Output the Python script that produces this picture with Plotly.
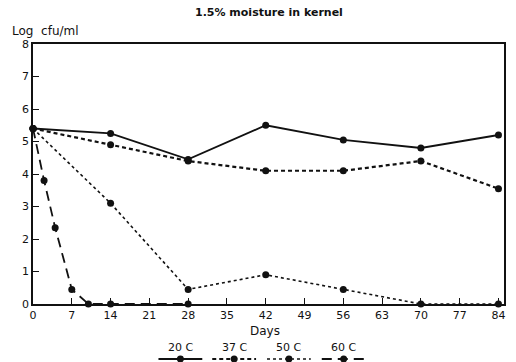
import plotly.graph_objects as go

days_20 = [0, 14, 28, 42, 56, 70, 84]
log_20 = [5.4, 5.25, 4.45, 5.5, 5.05, 4.8, 5.2]
days_37 = [0, 14, 28, 42, 56, 70, 84]
log_37 = [5.4, 4.9, 4.4, 4.1, 4.1, 4.4, 3.55]
days_50 = [0, 14, 28, 42, 56, 70, 84]
log_50 = [5.4, 3.1, 0.45, 0.9, 0.45, 0, 0]
days_60 = [0, 2, 4, 7, 10, 14, 28]
log_60 = [5.4, 3.8, 2.35, 0.45, 0, 0, 0]

series = [
    ("20 C", days_20, log_20, "solid", 1.8),
    ("37 C", days_37, log_37, "4px,3px", 2.2),
    ("50 C", days_50, log_50, "dot", 1.6),
    ("60 C", days_60, log_60, "10px,6px", 1.8),
]
x_ticks = list(range(0, 85, 7))
y_ticks = list(range(0, 9))

INK = "#111111"
fig = go.Figure()
for name, x, y, dash, w in series:
    fig.add_trace(go.Scatter(
        x=x, y=y, mode="lines+markers", name=name,
        line=dict(color=INK, width=w, dash=dash),
        marker=dict(color=INK, size=7),
        cliponaxis=False, showlegend=False))

font = "DejaVu Sans"
fig.update_layout(
    width=516, height=362,
    margin=dict(l=33, r=10, t=44, b=58),
    paper_bgcolor="white", plot_bgcolor="white",
    font=dict(family=font, color=INK, size=11),
    xaxis=dict(range=[0, 85], tickvals=x_ticks, ticks="inside", ticklen=6,
               tickwidth=1.2, tickcolor=INK, showgrid=False, zeroline=False,
               showline=True, linecolor=INK, linewidth=1.8, mirror=True,
               tickfont=dict(size=11)),
    yaxis=dict(range=[0, 8], tickvals=y_ticks, ticks="inside", ticklen=6,
               tickwidth=1.2, tickcolor=INK, showgrid=False, zeroline=False,
               showline=True, linecolor=INK, linewidth=1.8, mirror=True,
               tickfont=dict(size=11)),
    showlegend=False,
)

# titles
fig.add_annotation(text="<b>1.5% moisture in kernel</b>", xref="paper", yref="paper",
                   x=(270 - 33) / 473, y=1 + (44 - 12) / 260, showarrow=False,
                   font=dict(size=11), xanchor="center", yanchor="middle")
fig.add_annotation(text="Log  cfu/ml", xref="paper", yref="paper",
                   x=(10 - 33) / 473, y=1 + (44 - 31) / 260, showarrow=False,
                   font=dict(size=12), xanchor="left", yanchor="middle")
fig.add_annotation(text="Days", xref="paper", yref="paper",
                   x=(266 - 33) / 473, y=-(331 - 304) / 260, showarrow=False,
                   font=dict(size=12), xanchor="center", yanchor="middle")

# legend: label above a line sample
centers = [181, 235, 290, 345]
for (name, x, y, dash, w), cx in zip(series, centers):
    px = (cx - 33) / 473
    half = 22 / 473
    ly = -(359 - 304) / 260
    fig.add_annotation(text=name, xref="paper", yref="paper", x=px,
                       y=-(347 - 304) / 260, showarrow=False,
                       font=dict(size=11), xanchor="center", yanchor="middle")
    fig.add_shape(type="line", xref="paper", yref="paper", x0=px - half, x1=px + half,
                  y0=ly, y1=ly, line=dict(color=INK, width=w, dash=dash))
    r = 3.5
    fig.add_shape(type="circle", xref="paper", yref="paper",
                  x0=px - r / 473, x1=px + r / 473, y0=ly - r / 260, y1=ly + r / 260,
                  fillcolor=INK, line=dict(color=INK, width=0))

fig.write_html("out.html", config={"displayModeBar": False},
               post_script="document.body.style.margin='0';")
